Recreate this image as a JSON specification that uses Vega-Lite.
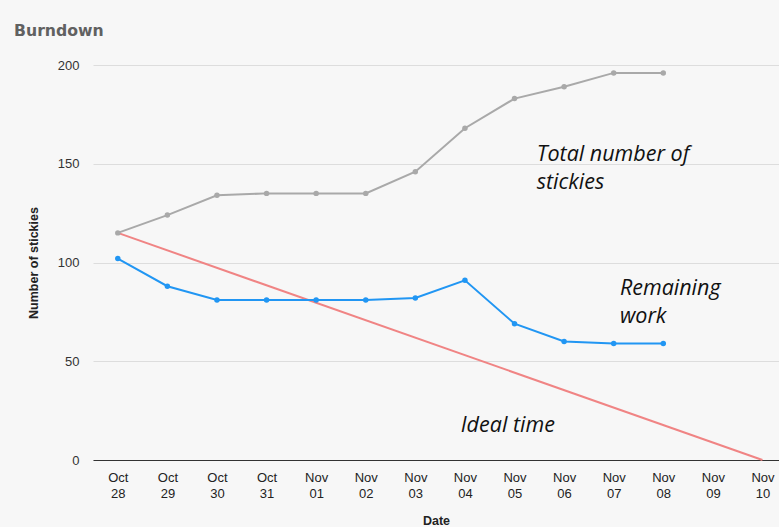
{
  "$schema": "https://vega.github.io/schema/vega-lite/v6.json",
  "autosize": {"type": "none"},
  "width": 686,
  "height": 395,
  "padding": {"left": 93, "top": 65, "right": 0, "bottom": 67},
  "background": "#f7f7f7",
  "title": {
    "text": "Burndown",
    "anchor": "start",
    "font": "DejaVu Sans",
    "fontSize": 15.7,
    "fontWeight": "bold",
    "color": "#616161",
    "baseline": "alphabetic",
    "frame": "group",
    "offset": 34,
    "dx": -79,
    "dy": 27
  },
  "config": {
    "view": {"stroke": null},
    "font": "Liberation Sans"
  },
  "datasets": {
    "series": [
      {"date": "2014-10-28", "series": "Total", "value": 115},
      {"date": "2014-10-29", "series": "Total", "value": 124},
      {"date": "2014-10-30", "series": "Total", "value": 134},
      {"date": "2014-10-31", "series": "Total", "value": 135},
      {"date": "2014-11-01", "series": "Total", "value": 135},
      {"date": "2014-11-02", "series": "Total", "value": 135},
      {"date": "2014-11-03", "series": "Total", "value": 146},
      {"date": "2014-11-04", "series": "Total", "value": 168},
      {"date": "2014-11-05", "series": "Total", "value": 183},
      {"date": "2014-11-06", "series": "Total", "value": 189},
      {"date": "2014-11-07", "series": "Total", "value": 196},
      {"date": "2014-11-08", "series": "Total", "value": 196},
      {"date": "2014-10-28", "series": "Remaining", "value": 102},
      {"date": "2014-10-29", "series": "Remaining", "value": 88},
      {"date": "2014-10-30", "series": "Remaining", "value": 81},
      {"date": "2014-10-31", "series": "Remaining", "value": 81},
      {"date": "2014-11-01", "series": "Remaining", "value": 81},
      {"date": "2014-11-02", "series": "Remaining", "value": 81},
      {"date": "2014-11-03", "series": "Remaining", "value": 82},
      {"date": "2014-11-04", "series": "Remaining", "value": 91},
      {"date": "2014-11-05", "series": "Remaining", "value": 69},
      {"date": "2014-11-06", "series": "Remaining", "value": 60},
      {"date": "2014-11-07", "series": "Remaining", "value": 59},
      {"date": "2014-11-08", "series": "Remaining", "value": 59}
    ],
    "ideal": [
      {"date": "2014-10-28", "value": 115},
      {"date": "2014-11-10", "value": 0}
    ],
    "notes": [
      {"date": "2014-11-05T10:45", "value": 151.4, "label": "Total number of\nstickies"},
      {"date": "2014-11-07T03:00", "value": 83.5, "label": "Remaining\nwork"},
      {"date": "2014-11-03T22:00", "value": 14.2, "label": "Ideal time"}
    ]
  },
  "encoding": {
    "x": {
      "field": "date",
      "type": "temporal",
      "scale": {
        "type": "utc",
        "domain": [
          {"year": 2014, "month": "oct", "date": 27, "hours": 12, "utc": true},
          {"year": 2014, "month": "nov", "date": 10, "hours": 8, "utc": true}
        ]
      },
      "axis": {
        "title": "Date",
        "titleFont": "Liberation Sans",
        "titleFontSize": 12.5,
        "titleFontWeight": "bold",
        "titleColor": "#222222",
        "titlePadding": 14,
        "values": [
          {"year": 2014, "month": "oct", "date": 28, "utc": true},
          {"year": 2014, "month": "oct", "date": 29, "utc": true},
          {"year": 2014, "month": "oct", "date": 30, "utc": true},
          {"year": 2014, "month": "oct", "date": 31, "utc": true},
          {"year": 2014, "month": "nov", "date": 1, "utc": true},
          {"year": 2014, "month": "nov", "date": 2, "utc": true},
          {"year": 2014, "month": "nov", "date": 3, "utc": true},
          {"year": 2014, "month": "nov", "date": 4, "utc": true},
          {"year": 2014, "month": "nov", "date": 5, "utc": true},
          {"year": 2014, "month": "nov", "date": 6, "utc": true},
          {"year": 2014, "month": "nov", "date": 7, "utc": true},
          {"year": 2014, "month": "nov", "date": 8, "utc": true},
          {"year": 2014, "month": "nov", "date": 9, "utc": true},
          {"year": 2014, "month": "nov", "date": 10, "utc": true}
        ],
        "labelExpr": "[utcFormat(datum.value, '%b'), utcFormat(datum.value, '%d')]",
        "labelFont": "Liberation Sans",
        "labelFontSize": 13,
        "labelColor": "#222222",
        "labelLineHeight": 16,
        "labelPadding": 11,
        "labelOverlap": false,
        "labelFlush": false,
        "ticks": false,
        "grid": false,
        "domainColor": "#333333",
        "domainWidth": 1
      }
    },
    "y": {
      "field": "value",
      "type": "quantitative",
      "scale": {"domain": [0, 200], "nice": false},
      "axis": {
        "title": "Number of stickies",
        "titleFont": "Liberation Sans",
        "titleFontSize": 12.5,
        "titleFontWeight": "bold",
        "titleColor": "#222222",
        "titlePadding": 17,
        "values": [0, 50, 100, 150, 200],
        "labelFont": "Liberation Sans",
        "labelFontSize": 13,
        "labelColor": "#333333",
        "labelPadding": 14,
        "ticks": false,
        "domain": false,
        "gridColor": "#dddddd",
        "gridWidth": 1
      }
    }
  },
  "layer": [
    {
      "data": {"name": "ideal"},
      "mark": {"type": "line", "color": "#f08484", "strokeWidth": 2}
    },
    {
      "data": {"name": "series"},
      "mark": {"type": "line", "strokeWidth": 2, "point": {"size": 30, "filled": true}},
      "encoding": {
        "color": {
          "field": "series",
          "type": "nominal",
          "scale": {"domain": ["Total", "Remaining"], "range": ["#a9a9a9", "#2196f3"]},
          "legend": null
        }
      }
    },
    {
      "data": {"name": "notes"},
      "mark": {
        "type": "text",
        "align": "left",
        "baseline": "alphabetic",
        "font": "Open Sans",
        "fontStyle": "italic",
        "fontSize": 21.5,
        "lineHeight": 28,
        "lineBreak": "\n",
        "color": "#111111"
      },
      "encoding": {
        "text": {"field": "label", "type": "nominal"}
      }
    }
  ]
}
